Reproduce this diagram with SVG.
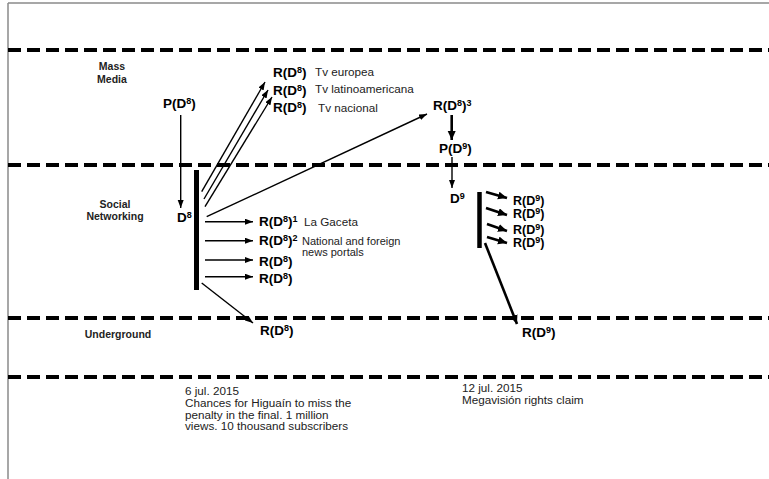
<svg xmlns="http://www.w3.org/2000/svg" width="769" height="479" viewBox="0 0 769 479">
<style>
.dash{stroke:#000;stroke-width:4;stroke-dasharray:13 6;fill:none}
.lane{font-family:"Liberation Sans",Arial,sans-serif;font-weight:bold;font-size:10.5px;fill:#222;text-anchor:middle}
.lbl{font-family:"Liberation Sans",Arial,sans-serif;font-weight:bold;font-size:13.5px;fill:#000}
.lbs{font-family:"Liberation Sans",Arial,sans-serif;font-weight:bold;font-size:12.5px;fill:#000}
.sup{font-size:9px}
.note{font-family:"Liberation Sans",Arial,sans-serif;font-size:11.7px;fill:#222}
.notes{font-family:"Liberation Sans",Arial,sans-serif;font-size:11px;fill:#222}
.thin{stroke:#000;stroke-width:1.4;fill:none;marker-end:url(#ah)}
.thick{stroke:#000;stroke-width:2.6;fill:none;marker-end:url(#ahb)}
.bar{stroke:#000;fill:none}
</style>
<defs>
<marker id="ah" markerUnits="userSpaceOnUse" markerWidth="9" markerHeight="7" refX="8" refY="3" orient="auto">
<path d="M0,0 L8,3 L0,6 z" fill="#000"/>
</marker>
<marker id="ahb" markerUnits="userSpaceOnUse" markerWidth="11" markerHeight="9" refX="9" refY="4" orient="auto">
<path d="M0,0 L9,4 L0,8 z" fill="#000"/>
</marker>
</defs>
<rect width="769" height="479" fill="#fff"/>
<g id="frame">
<line x1="8" y1="3" x2="769" y2="3" stroke="#8a8a8a" stroke-width="1.5"/>
<line x1="8" y1="3" x2="8" y2="479" stroke="#8a8a8a" stroke-width="1.5"/>
</g>
<g id="lanes">
<line class="dash" x1="8" y1="50" x2="769" y2="50"/>
<line class="dash" x1="8" y1="165" x2="769" y2="165"/>
<line class="dash" x1="8" y1="318" x2="769" y2="318"/>
<line class="dash" x1="8" y1="377" x2="769" y2="377"/>
<text class="lane" x="112" y="70">Mass</text>
<text class="lane" x="112" y="83">Media</text>
<text class="lane" x="115" y="208">Social</text>
<text class="lane" x="115" y="220">Networking</text>
<text class="lane" x="118" y="338">Underground</text>
</g>
<g id="connectors">
<line class="thin" x1="180.7" y1="115" x2="180.7" y2="208"/>
<line class="thin" x1="201.7" y1="191.7" x2="265" y2="82"/>
<line class="thin" x1="204" y1="199" x2="268" y2="90"/>
<line class="thin" x1="205" y1="206.7" x2="272" y2="97"/>
<line class="thin" x1="206.7" y1="216.7" x2="427" y2="114"/>
<line class="thin" x1="205" y1="221.7" x2="253" y2="221.7"/>
<line class="thin" x1="205" y1="240.7" x2="253" y2="240.7"/>
<line class="thin" x1="205" y1="260" x2="253" y2="260"/>
<line class="thin" x1="205" y1="276.7" x2="253" y2="276.7"/>
<line class="thin" x1="201.7" y1="283" x2="253" y2="323"/>
<line class="thick" x1="451.7" y1="115" x2="451.7" y2="140"/>
<line class="thin" x1="452" y1="157" x2="452" y2="188"/>
<line class="thick" x1="486" y1="192" x2="507" y2="198"/>
<line class="thick" x1="486" y1="208" x2="507" y2="215"/>
<line class="thick" x1="487" y1="224" x2="507" y2="231"/>
<line class="thick" x1="487" y1="237" x2="507" y2="243"/>
<line class="thick" x1="485" y1="243" x2="517" y2="324"/>
</g>
<g id="bar-d8"><line class="bar" x1="196.5" y1="170" x2="196.5" y2="290" stroke-width="5"/></g>
<g id="bar-d9"><line class="bar" x1="479.5" y1="192" x2="479.5" y2="248" stroke-width="4.5"/></g>
<g id="p-d8"><text class="lbl" x="163" y="108">P(D<tspan class="sup" dy="-4">8</tspan><tspan dy="4">)</tspan></text></g>
<g id="d8"><text class="lbl" x="177" y="222">D<tspan class="sup" dy="-4">8</tspan></text></g>
<g id="r-tv-europea"><text class="lbl" x="273" y="77">R(D<tspan class="sup" dy="-4">8</tspan><tspan dy="4">)</tspan></text><text class="note" x="315" y="76">Tv europea</text></g>
<g id="r-tv-latino"><text class="lbl" x="273" y="95">R(D<tspan class="sup" dy="-4">8</tspan><tspan dy="4">)</tspan></text><text class="note" x="315" y="93">Tv latinoamericana</text></g>
<g id="r-tv-nacional"><text class="lbl" x="273" y="112">R(D<tspan class="sup" dy="-4">8</tspan><tspan dy="4">)</tspan></text><text class="note" x="318" y="112">Tv nacional</text></g>
<g id="r-d8-3"><text class="lbl" x="433" y="110">R(D<tspan class="sup" dy="-4">8</tspan><tspan dy="4">)</tspan><tspan class="sup" dy="-4">3</tspan></text></g>
<g id="p-d9"><text class="lbl" x="439" y="153">P(D<tspan class="sup" dy="-4">9</tspan><tspan dy="4">)</tspan></text></g>
<g id="d9"><text class="lbl" x="450" y="203">D<tspan class="sup" dy="-4">9</tspan></text></g>
<g id="r-gaceta"><text class="lbl" x="259" y="226">R(D<tspan class="sup" dy="-4">8</tspan><tspan dy="4">)</tspan><tspan class="sup" dy="-4">1</tspan></text><text class="note" x="304" y="226">La Gaceta</text></g>
<g id="r-portals"><text class="lbl" x="259" y="245">R(D<tspan class="sup" dy="-4">8</tspan><tspan dy="4">)</tspan><tspan class="sup" dy="-4">2</tspan></text><text class="notes" x="302" y="244.5">National and foreign</text><text class="notes" x="302" y="256">news portals</text></g>
<g id="r-d8-a"><text class="lbl" x="259" y="266">R(D<tspan class="sup" dy="-4">8</tspan><tspan dy="4">)</tspan></text></g>
<g id="r-d8-b"><text class="lbl" x="259" y="283">R(D<tspan class="sup" dy="-4">8</tspan><tspan dy="4">)</tspan></text></g>
<g id="r-d8-under"><text class="lbl" x="260" y="335">R(D<tspan class="sup" dy="-4">8</tspan><tspan dy="4">)</tspan></text></g>
<g id="r-d9-1"><text class="lbs" x="513" y="204.5">R(D<tspan class="sup" dy="-4">9</tspan><tspan dy="4">)</tspan></text></g>
<g id="r-d9-2"><text class="lbs" x="513" y="217.5">R(D<tspan class="sup" dy="-4">9</tspan><tspan dy="4">)</tspan></text></g>
<g id="r-d9-3"><text class="lbs" x="513" y="233.5">R(D<tspan class="sup" dy="-4">9</tspan><tspan dy="4">)</tspan></text></g>
<g id="r-d9-4"><text class="lbs" x="513" y="246.5">R(D<tspan class="sup" dy="-4">9</tspan><tspan dy="4">)</tspan></text></g>
<g id="r-d9-under"><text class="lbl" x="522" y="337">R(D<tspan class="sup" dy="-4">9</tspan><tspan dy="4">)</tspan></text></g>
<g id="note-6jul"><text class="note" x="185" y="395">6 jul. 2015</text><text class="note" x="185" y="407">Chances for Higuaín to miss the</text><text class="note" x="185" y="418.5">penalty in the final. 1 million</text><text class="note" x="185" y="430">views. 10 thousand subscribers</text></g>
<g id="note-12jul"><text class="note" x="462" y="392">12 jul. 2015</text><text class="note" x="462" y="403.5">Megavisión rights claim</text></g>
</svg>
